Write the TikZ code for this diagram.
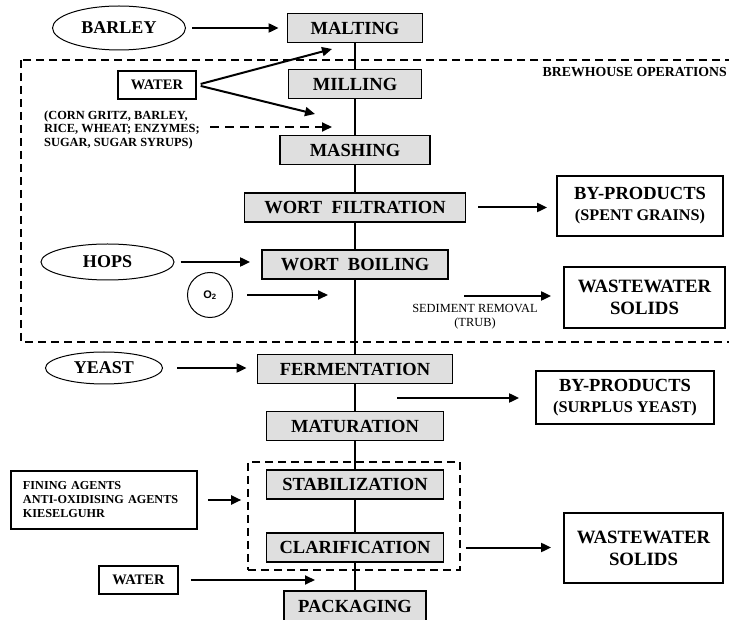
\documentclass[tikz,border=0pt]{standalone}
\usepackage{fontspec}
\setmainfont{Liberation Serif}
\setsansfont{Liberation Sans}
\usetikzlibrary{shapes.geometric,arrows.meta}
\begin{document}
\begin{tikzpicture}[x=1pt,y=-1pt,
  proc/.style={draw, line width=1.8pt, fill=gray!25, minimum height=29pt, inner sep=0pt, font=\bfseries\fontsize{18.5}{20}\selectfont},
  outbox/.style={draw, line width=1.8pt, inner sep=0pt, align=center, font=\bfseries\fontsize{18.5}{21}\selectfont},
  inbox/.style={draw, line width=1.6pt, inner sep=0pt, minimum height=28pt, font=\bfseries\fontsize{14.5}{16}\selectfont},
  inell/.style={draw, ellipse, line width=1pt, inner sep=0pt, font=\bfseries\fontsize{18}{20}\selectfont},
  arr/.style={line width=2pt, -{Triangle[length=10pt,width=9pt]}},
  flow/.style={line width=1.3pt},
  grpline/.style={line width=1.6pt, dash pattern=on 8pt off 5pt},
]
\useasboundingbox (0,0) rectangle (729,620);

% brewhouse dashed region
\draw[grpline] (21,60) rectangle (745,342);
\node[anchor=east, inner sep=0pt, font=\bfseries\fontsize{13.8}{15}\selectfont] (brew) at (727,72) {BREWHOUSE OPERATIONS};

% main process boxes
\node[proc, minimum width=135pt] (malt) at (355,28) {MALTING};
\node[proc, minimum width=133pt] (mill) at (355,84) {MILLING};
\node[proc, minimum width=150pt] (mash) at (355,150) {MASHING};
\node[proc, minimum width=221pt] (filt) at (355,207.5) {WORT~~FILTRATION};
\node[proc, minimum width=186pt] (boil) at (355,264.5) {WORT~~BOILING};
\node[proc, minimum width=195pt] (ferm) at (355,369) {FERMENTATION};
\node[proc, minimum width=177pt] (matu) at (355,426) {MATURATION};
\node[proc, minimum width=177pt] (stab) at (355,484.5) {STABILIZATION};
\node[proc, minimum width=177pt] (clar) at (355,547.5) {CLARIFICATION};
\node[proc, minimum width=142pt, minimum height=31pt] (pack) at (355,606.5) {PACKAGING};

% stabilization / clarification group
\node[draw, grpline, minimum width=212pt, minimum height=108pt, inner sep=0pt] (grp) at (354,516) {};

% vertical flow line
\draw[flow] (malt) -- (mill);
\draw[flow] (mill) -- (mash);
\draw[flow] (mash) -- (filt);
\draw[flow] (filt) -- (boil);
\draw[flow] (boil) -- (ferm);
\draw[flow] (ferm) -- (matu);
\draw[flow] (matu) -- (stab);
\draw[flow] (stab) -- (clar);
\draw[flow] (clar) -- (pack);

% inputs
\node[inell, minimum width=133pt, minimum height=44pt] (barley) at (119,28) {BARLEY};
\node[inbox, minimum width=78pt] (water) at (157,85) {WATER};
\node[anchor=west, align=left, inner sep=0pt, font=\bfseries\fontsize{12.4}{13.5}\selectfont] (adj) at (44,130) {(CORN GRITZ, BARLEY,\\RICE, WHEAT; ENZYMES;\\SUGAR, SUGAR SYRUPS)};
\node[inell, minimum width=133pt, minimum height=36pt] (hops) at (107.5,262) {HOPS};
\node[draw, circle, line width=1pt, minimum size=45pt, inner sep=0pt, font=\sffamily\bfseries\fontsize{11}{12}\selectfont] (o2) at (210,295) {O\textsubscript{2}};
\node[inell, minimum width=117pt, minimum height=32pt] (yeast) at (104,368) {YEAST};
\node[draw, line width=1.6pt, minimum width=186pt, minimum height=58pt, text width=162pt, inner xsep=12pt, inner ysep=0pt, align=left, font=\bfseries\fontsize{12.2}{14}\selectfont] (fining) at (104,500) {FINING AGENTS\\ANTI-OXIDISING AGENTS\\KIESELGUHR};
\node[inbox, minimum width=79pt] (water2) at (138.5,580) {WATER};

% outputs
\node[outbox, minimum width=166pt, minimum height=60pt] (bp1) at (640,206) {BY-PRODUCTS\\{\fontsize{16.2}{21}\selectfont (SPENT GRAINS)}};
\node[outbox, minimum width=161pt, minimum height=61pt, font=\bfseries\fontsize{18.8}{22}\selectfont] (ww1) at (644.5,297.5) {WASTEWATER\\SOLIDS};
\node[font=\fontsize{12.4}{14}\selectfont, align=center, inner sep=0pt] (sedtxt) at (475,317) {SEDIMENT REMOVAL\\(TRUB)};
\node[outbox, minimum width=178pt, minimum height=53pt] (bp2) at (625,397.5) {BY-PRODUCTS\\{\fontsize{16.3}{20}\selectfont (SURPLUS YEAST)}};
\node[outbox, minimum width=159pt, minimum height=70pt, font=\bfseries\fontsize{18.8}{22}\selectfont] (ww2) at (643.5,548) {WASTEWATER\\SOLIDS};

% free arrow ends
\coordinate (w1) at (332,49);
\coordinate (w2) at (315,114);
\coordinate (d1) at (210,127);
\coordinate (d2) at (332,127);
\coordinate (o2t) at (328,295);
\coordinate (seds) at (464,296);
\coordinate (surs) at (397,398);
\coordinate (w3) at (315,580);

% arrows
\draw[arr, shorten <=6pt, shorten >=8pt] (barley) -- (malt);
\draw[arr, shorten <=4pt] (water.east) -- (w1);
\draw[arr, shorten <=4pt] (water.east) -- (w2);
\draw[arr, dash pattern=on 9pt off 6pt] (d1) -- (d2);
\draw[arr, shorten <=12pt, shorten >=9pt] (filt.east) -- (filt.east -| bp1.west);
\draw[arr, shorten <=6pt, shorten >=11pt] (hops.east) -- (hops.east -| boil.west);
\draw[arr, shorten <=14pt] (o2.east) -- (o2t);
\draw[arr, shorten >=12pt] (seds) -- (seds -| ww1.west);
\draw[arr, shorten <=14pt, shorten >=10pt] (yeast.east) -- (yeast.east -| ferm.west);
\draw[arr, shorten >=16pt] (surs) -- (surs -| bp2.west);
\draw[arr, shorten <=10pt, shorten >=6pt] (fining.east) -- (fining.east -| grp.west);
\draw[arr, shorten <=5pt, shorten >=12pt] (clar.east -| grp.east) -- (clar.east -| ww2.west);
\draw[arr, shorten <=12pt] (water2.east) -- (w3);
\end{tikzpicture}
\end{document}
